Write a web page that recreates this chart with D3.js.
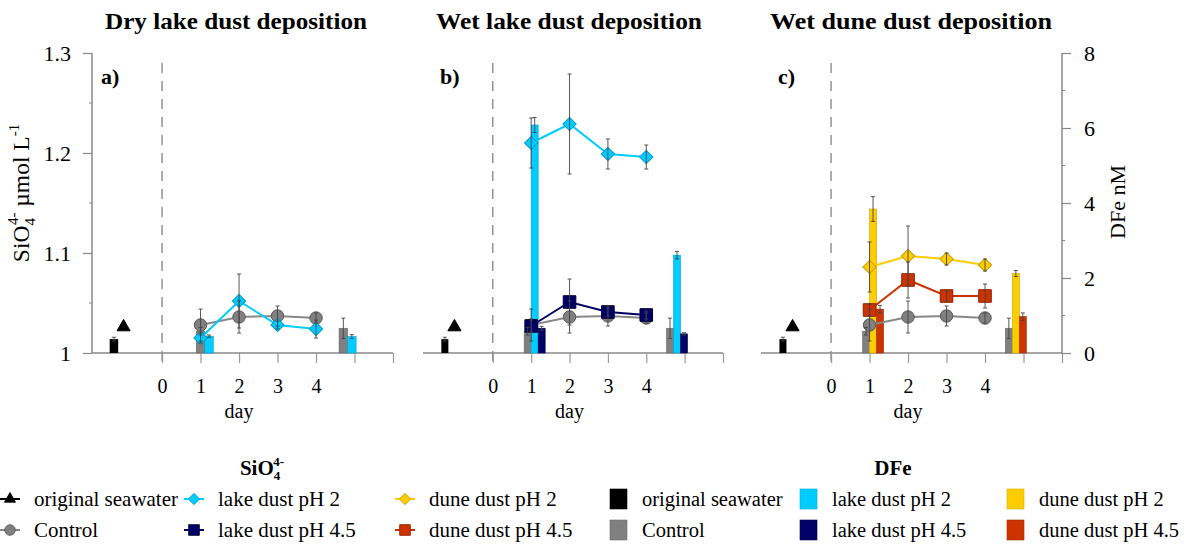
<!DOCTYPE html>
<html><head><meta charset="utf-8">
<script src="https://cdn.jsdelivr.net/npm/d3@7"></script>
<style>body{margin:0;background:#fff}svg{display:block}</style>
</head><body><svg id="chart" width="1184" height="546"></svg>
<script>
// ---------- data ----------
const days = [1, 2, 3, 4];
const dayTicks = [0, 1, 2, 3, 4, 5, 6];
const dayLabels = ["0", "1", "2", "3", "4"];
const siTicks = [1, 1.1, 1.2, 1.3];
const siLabels = ["1", "1.1", "1.2", "1.3"];
const siMinor = [1.05, 1.15, 1.25];
const feTicks = [0, 2, 4, 6, 8];
const feMinor = [1, 3, 5, 7];
const panelTitles = ["Dry lake dust deposition", "Wet lake dust deposition", "Wet dune dust deposition"];
const panelLetters = ["a)", "b)", "c)"];
const barTimes = [1, 4.71];           // day 1 and end of experiment

// SiO4 (µmol/L) – symbols
const seawaterSi = 1.026;
const controlSi = [1.028, 1.036, 1.037, 1.035];
const controlSiErr = [0.016, 0.016, 0.010, 0.005];
const dryLakePh2Si = [1.015, 1.052, 1.028, 1.024];
const dryLakePh2SiErr = [0.005, 0.027, 0.004, 0.009];
const wetLakePh2Si = [1.210, 1.229, 1.199, 1.196];
const wetLakePh2SiErr = [0.025, 0.050, 0.015, 0.012];
const wetLakePh45Si = [1.027, 1.051, 1.041, 1.038];
const wetLakePh45SiErr = [0.006, 0.023, 0.004, 0.004];
const dunePh2Si = [1.086, 1.097, 1.094, 1.088];
const dunePh2SiErr = [0.025, 0.030, 0.006, 0.006];
const dunePh45Si = [1.043, 1.073, 1.057, 1.057];
const dunePh45SiErr = [0.006, 0.018, 0.005, 0.012];

// DFe (nM) – bars at day 1 and end
const seawaterFe = 0.37, seawaterFeErr = 0.05;
const controlFe = [0.58, 0.66];
const controlFeErr = [0.10, 0.27];
const dryLakePh2Fe = [0.45, 0.44];
const dryLakePh2FeErr = [0.03, 0.05];
const wetLakePh2Fe = [6.08, 2.61];
const wetLakePh2FeErr = [0.20, 0.10];
const wetLakePh45Fe = [0.66, 0.51];
const wetLakePh45FeErr = [0.05, 0.03];
const dunePh2Fe = [3.84, 2.12];
const dunePh2FeErr = [0.33, 0.08];
const dunePh45Fe = [1.17, 0.97];
const dunePh45FeErr = [0.10, 0.10];

// ---------- styles ----------
const C = {
  grey: "#808080", greyS: "#5a5a5a",
  cyan: "#00ccff", cyanS: "#0099cc",
  navy: "#000066", navyS: "#000033",
  yellow: "#ffcc00", yellowS: "#c89b00",
  red: "#cc3300", redS: "#8f2200",
  black: "#000000"
};
const FONT = "'Liberation Serif','Times New Roman',serif";

const svg = d3.select("#chart");
svg.append("rect").attr("width", 1184).attr("height", 546).attr("fill", "#fff");

const ySi = d3.scaleLinear().domain([1, 1.3]).range([353, 53]);
const yFe = d3.scaleLinear().domain([0, 8]).range([353, 53]);

const panels = [
  { left: 92, right: 393, barW: 8.5, shift: 0.11, titleX: 236, titleW: 262,
    si: [ {v: controlSi, e: controlSiErr, sym: "circle", fill: C.grey, stroke: C.greyS},
          {v: dryLakePh2Si, e: dryLakePh2SiErr, sym: "diamond", fill: C.cyan, stroke: C.cyanS} ],
    fe: [ {v: controlFe, e: controlFeErr, fill: C.grey},
          {v: dryLakePh2Fe, e: dryLakePh2FeErr, fill: C.cyan} ] },
  { left: 423, right: 723, barW: 7, shift: 0, titleX: 569, titleW: 266,
    si: [ {v: controlSi, e: controlSiErr, sym: "circle", fill: C.grey, stroke: C.greyS},
          {v: wetLakePh2Si, e: wetLakePh2SiErr, sym: "diamond", fill: C.cyan, stroke: C.cyanS},
          {v: wetLakePh45Si, e: wetLakePh45SiErr, sym: "square", fill: C.navy, stroke: C.navyS} ],
    fe: [ {v: controlFe, e: controlFeErr, fill: C.grey},
          {v: wetLakePh2Fe, e: wetLakePh2FeErr, fill: C.cyan},
          {v: wetLakePh45Fe, e: wetLakePh45FeErr, fill: C.navy} ] },
  { left: 761, right: 1062, barW: 7, shift: 0, titleX: 911, titleW: 282,
    si: [ {v: controlSi, e: controlSiErr, sym: "circle", fill: C.grey, stroke: C.greyS},
          {v: dunePh2Si, e: dunePh2SiErr, sym: "diamond", fill: C.yellow, stroke: C.yellowS},
          {v: dunePh45Si, e: dunePh45SiErr, sym: "square", fill: C.red, stroke: C.redS} ],
    fe: [ {v: controlFe, e: controlFeErr, fill: C.grey},
          {v: dunePh2Fe, e: dunePh2FeErr, fill: C.yellow},
          {v: dunePh45Fe, e: dunePh45FeErr, fill: C.red} ] }
];

function symPath(sym, size) {
  const map = {circle: d3.symbolCircle, diamond: d3.symbolSquare, square: d3.symbolSquare, triangle: d3.symbolTriangle};
  return d3.symbol().type(map[sym]).size(size)();
}
function drawSym(g, sym, x, y, fill, stroke) {
  const size = sym === "circle" ? 122 : sym === "diamond" ? 88 : sym === "square" ? 158 : 75;
  return g.append("path").attr("d", symPath(sym, size))
    .attr("fill", fill).attr("stroke", stroke).attr("stroke-width", 1)
    .attr("transform", `translate(${x},${y})` + (sym === "diamond" ? " rotate(45)" : ""));
}
function errBar(g, x, y1, y2, cap) {
  g.append("line").attr("x1", x).attr("x2", x).attr("y1", y1).attr("y2", y2)
    .attr("stroke", "#444").attr("stroke-width", 0.9);
  [y1, y2].forEach(y => g.append("line").attr("x1", x - cap).attr("x2", x + cap)
    .attr("y1", y).attr("y2", y).attr("stroke", "#444").attr("stroke-width", 0.9));
}

panels.forEach((p, pi) => {
  const x = d3.scaleLinear().domain([-1.82, 6]).range([p.left, p.right]);
  const g = svg.append("g");

  // dashed day-0 line
  g.append("line").attr("x1", x(0)).attr("x2", x(0)).attr("y1", 63).attr("y2", 363)
    .attr("stroke", "#777").attr("stroke-width", 1.2).attr("stroke-dasharray", "10,8");

  // x axis
  const xAxis = d3.axisBottom(x).tickValues(dayTicks).tickSize(10)
    .tickFormat(d => d <= 4 ? dayLabels[d] : "").tickPadding(16);
  const ax = g.append("g").attr("transform", "translate(0,353)").call(xAxis);
  ax.select(".domain").attr("stroke", "#888").attr("stroke-width", 1.5).attr("d", `M${p.left},0H${p.right}`);
  ax.selectAll(".tick line").attr("stroke", "#999").attr("stroke-width", 1.2);
  ax.selectAll(".tick text").attr("font-family", FONT).attr("font-size", 20).attr("fill", "#000");
  g.append("text").attr("x", x(2)).attr("y", 418).attr("text-anchor", "middle")
    .attr("font-family", FONT).attr("font-size", 20).text("day");

  // title and letter
  g.append("text").attr("x", p.titleX).attr("y", 29).attr("text-anchor", "middle")
    .attr("font-family", FONT).attr("font-weight", "bold").attr("font-size", 23)
    .attr("textLength", p.titleW).attr("lengthAdjust", "spacingAndGlyphs").text(panelTitles[pi]);
  g.append("text").attr("x", p.left + (pi === 0 ? 9 : 17)).attr("y", 84)
    .attr("font-family", FONT).attr("font-weight", "bold").attr("font-size", 22).text(panelLetters[pi]);

  const errs = svg.append("g");
  const bw = p.barW;
  // seawater bar
  g.append("rect").attr("x", x(-1.25) - bw / 2).attr("width", bw)
    .attr("y", yFe(seawaterFe)).attr("height", yFe(0) - yFe(seawaterFe)).attr("fill", C.black);
  errBar(errs, x(-1.25), yFe(seawaterFe + seawaterFeErr), yFe(seawaterFe - seawaterFeErr), 2);

  // bar groups
  barTimes.forEach((t, ti) => {
    const anchor = x(t + p.shift);
    p.fe.forEach((s, si) => {
      const x0 = anchor + (si - 1) * bw;
      const v = s.v[ti];
      g.append("rect").attr("x", x0).attr("width", bw).attr("y", yFe(v))
        .attr("height", yFe(0) - yFe(v)).attr("fill", s.fill)
        .attr("stroke", d3.color(s.fill).darker(0.6)).attr("stroke-width", 0.6);
      errBar(errs, x0 + bw / 2, yFe(v + s.e[ti]), yFe(v - s.e[ti]), 2);
    });
  });

  // seawater triangle
  drawSym(g, "triangle", x(-1), ySi(seawaterSi), C.black, C.black);

  // SiO4 series
  p.si.forEach(s => {
    const line = d3.line().x((d, i) => x(days[i])).y(d => ySi(d));
    g.append("path").attr("d", line(s.v)).attr("fill", "none")
      .attr("stroke", s.fill === C.grey ? "#888" : s.fill).attr("stroke-width", 2);
    s.v.forEach((v, i) => {
      errBar(errs, x(days[i]), ySi(v + s.e[i]), ySi(v - s.e[i]), 2);
    });
  });
  p.si.forEach(s => {
    s.v.forEach((v, i) => drawSym(g, s.sym, x(days[i]), ySi(v), s.fill, s.stroke));
  });
});

// left y axis (SiO4)
const yl = svg.append("g").attr("transform", "translate(92,0)");
yl.call(d3.axisLeft(ySi).tickValues(siTicks).tickSize(9).tickPadding(12).tickFormat((d, i) => siLabels[i]));
yl.select(".domain").attr("stroke", "#888").attr("stroke-width", 1.5).attr("d", "M0,53V353");
yl.selectAll(".tick line").attr("stroke", "#888").attr("stroke-width", 1.2);
yl.selectAll(".tick text").attr("font-family", FONT).attr("font-size", 22).attr("fill", "#000");
siMinor.forEach(v => yl.append("line").attr("x1", -3).attr("x2", 0).attr("y1", ySi(v)).attr("y2", ySi(v)).attr("stroke", "#888"));

// right y axis (DFe)
const yr = svg.append("g").attr("transform", "translate(1062,0)");
yr.call(d3.axisRight(yFe).tickValues(feTicks).tickSize(9).tickPadding(13));
yr.select(".domain").attr("stroke", "#888").attr("stroke-width", 1.5).attr("d", "M0,53V353");
yr.selectAll(".tick line").attr("stroke", "#888").attr("stroke-width", 1.2);
yr.selectAll(".tick text").attr("font-family", FONT).attr("font-size", 22).attr("fill", "#000");
feMinor.forEach(v => yr.append("line").attr("x1", 0).attr("x2", 3).attr("y1", yFe(v)).attr("y2", yFe(v)).attr("stroke", "#888"));

// axis titles
const lt = svg.append("text").attr("transform", "translate(29,193) rotate(-90)")
  .attr("text-anchor", "middle").attr("font-family", FONT).attr("font-size", 23.5);
lt.append("tspan").text("SiO");
lt.append("tspan").attr("font-size", 15).attr("dy", 6).text("4");
lt.append("tspan").attr("font-size", 15).attr("dx", -7).attr("dy", -17).text("4-");
lt.append("tspan").attr("dy", 11).text(" µmol L");
lt.append("tspan").attr("font-size", 15).attr("dy", -10).text("-1");
svg.append("text").attr("transform", "translate(1125,202) rotate(-90)")
  .attr("text-anchor", "middle").attr("font-family", FONT).attr("font-size", 22).text("DFe nM");

// ---------- legends ----------
const legSymItems = [
  {label: "original seawater", sym: "triangle", fill: C.black, stroke: C.black, line: "#000"},
  {label: "Control", sym: "circle", fill: C.grey, stroke: C.greyS, line: "#888"},
  {label: "lake dust pH 2", sym: "diamond", fill: C.cyan, stroke: C.cyanS, line: C.cyan},
  {label: "lake dust pH 4.5", sym: "square", fill: C.navy, stroke: C.navyS, line: C.navy},
  {label: "dune dust pH 2", sym: "diamond", fill: C.yellow, stroke: C.yellowS, line: C.yellow},
  {label: "dune dust pH 4.5", sym: "square", fill: C.red, stroke: C.redS, line: C.red}
];
const legBarItems = [
  {label: "original seawater", fill: C.black},
  {label: "Control", fill: C.grey},
  {label: "lake dust pH 2", fill: C.cyan},
  {label: "lake dust pH 4.5", fill: C.navy},
  {label: "dune dust pH 2", fill: C.yellow},
  {label: "dune dust pH 4.5", fill: C.red}
];
const legCols = [10, 194, 405];
const legRows = [499, 530];
const ls = svg.append("g");
const st = ls.append("text").attr("x", 262).attr("y", 475).attr("text-anchor", "middle")
  .attr("font-family", FONT).attr("font-weight", "bold").attr("font-size", 21);
st.append("tspan").text("SiO");
st.append("tspan").attr("font-size", 13).attr("dy", 5).text("4");
st.append("tspan").attr("font-size", 13).attr("dx", -7).attr("dy", -14).text("4-");
legSymItems.forEach((it, i) => {
  const cx = legCols[Math.floor(i / 2)], cy = legRows[i % 2];
  ls.append("line").attr("x1", cx - 10).attr("x2", cx + 10).attr("y1", cy).attr("y2", cy)
    .attr("stroke", it.line).attr("stroke-width", 2);
  const g = ls.append("g");
  const p = drawSym(g, it.sym, cx, cy, it.fill, it.stroke);
  p.attr("transform", `translate(${cx},${cy}) scale(0.85)` + (it.sym === "diamond" ? " rotate(45)" : ""));
  ls.append("text").attr("x", cx + 24).attr("y", cy + 7).attr("font-family", FONT)
    .attr("font-size", 21).text(it.label);
});

const lb = svg.append("g");
lb.append("text").attr("x", 893).attr("y", 475).attr("text-anchor", "middle")
  .attr("font-family", FONT).attr("font-weight", "bold").attr("font-size", 21).text("DFe");
const barCols = [610, 800, 1007];
legBarItems.forEach((it, i) => {
  const x0 = barCols[Math.floor(i / 2)], cy = legRows[i % 2];
  lb.append("rect").attr("x", x0).attr("y", cy - 10).attr("width", 17).attr("height", 20)
    .attr("fill", it.fill).attr("stroke", d3.color(it.fill).darker(0.5)).attr("stroke-width", 0.6);
  lb.append("text").attr("x", x0 + 32).attr("y", cy + 7).attr("font-family", FONT)
    .attr("font-size", 20.5).text(it.label);
});
</script></body></html>
